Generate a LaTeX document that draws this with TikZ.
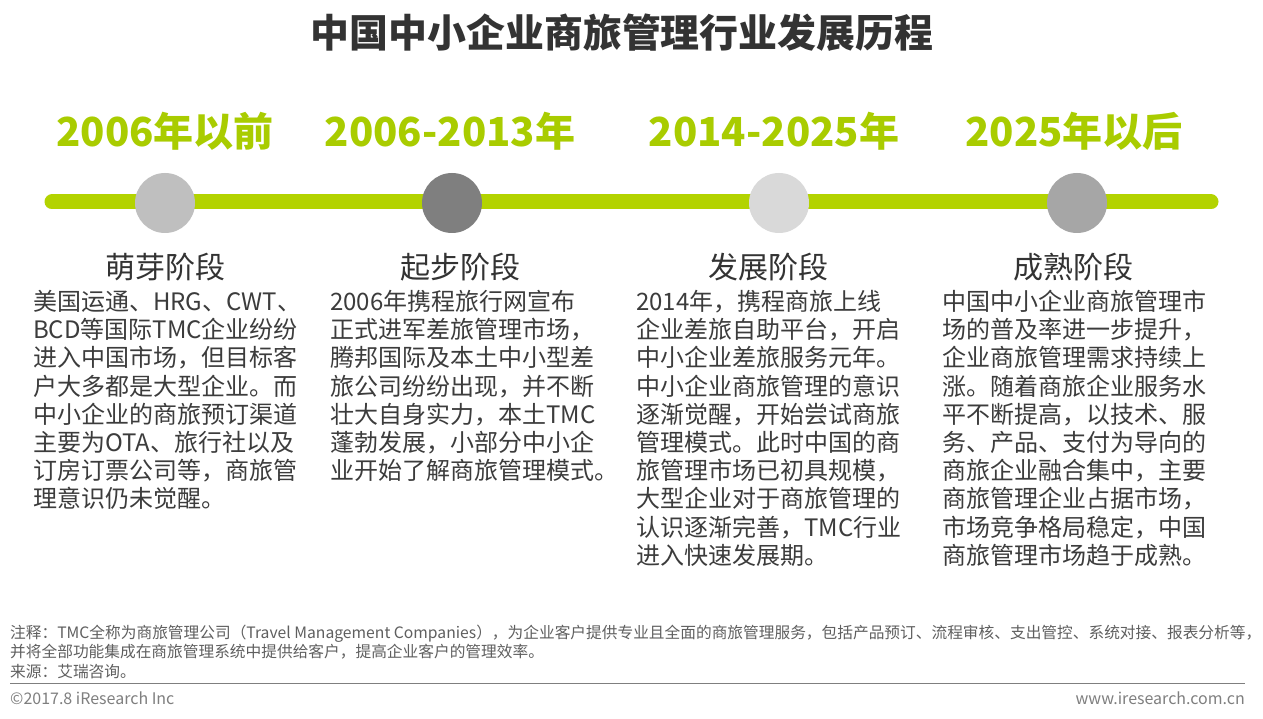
\documentclass[tikz,border=0pt]{standalone}
\usepackage{fontspec}
\setmainfont{Noto Sans CJK SC}
\usetikzlibrary{shapes.geometric}
\definecolor{lime}{HTML}{B3D300}
\definecolor{yeargreen}{HTML}{A9CC00}
\definecolor{titlegray}{HTML}{333333}
\definecolor{bodygray}{HTML}{3C3C3C}
\definecolor{notegray}{HTML}{5F5F5F}
\definecolor{footgray}{HTML}{7F7F7F}
\definecolor{dotA}{HTML}{BFBFBF}
\definecolor{dotB}{HTML}{7F7F7F}
\definecolor{dotC}{HTML}{D9D9D9}
\definecolor{dotD}{HTML}{A6A6A6}
\begin{document}
\begin{tikzpicture}[x=1pt,y=-1pt,
  titlestyle/.style={font=\fontsize{38.9}{44}\selectfont\bfseries, text=titlegray, inner sep=0pt},
  yearstyle/.style={font=\fontsize{40}{46}\selectfont\bfseries, text=yeargreen, inner sep=0pt},
  dotstyle/.style={circle, minimum size=60pt, inner sep=0pt, draw=none},
  stagestyle/.style={font=\fontsize{30}{36}\selectfont, text=titlegray, inner sep=0pt},
  bodystyle/.style={font=\fontsize{24}{28.2}\selectfont, text=bodygray, inner sep=0pt, anchor=north west, align=left},
  notestyle/.style={font=\fontsize{15.7}{19.2}\selectfont, text=notegray, inner sep=0pt, anchor=north west, align=left},
  footstyle/.style={font=\fontsize{16}{19}\selectfont, text=footgray, inner sep=0pt},
  barstyle/.style={line width=15pt, line cap=round, draw=lime}
]
\useasboundingbox (0,0) rectangle (1263,719);
\fill[white] (0,0) rectangle (1263,719);

\node[titlestyle] (title) at (622,33) {中国中小企业商旅管理行业发展历程};

\node[yearstyle] (y1) at (165,131) {2006年以前};
\node[yearstyle] (y2) at (450,131) {2006-2013年};
\node[yearstyle] (y3) at (774,131) {2014-2025年};
\node[yearstyle] (y4) at (1074,131) {2025年以后};

\coordinate (barL) at (52,202);
\coordinate (barR) at (1211,202);
\draw[barstyle] (barL) -- (barR);

\node[dotstyle, fill=dotA] (d1) at (165,203) {};
\node[dotstyle, fill=dotB] (d2) at (452,203) {};
\node[dotstyle, fill=dotC] (d3) at (779,203) {};
\node[dotstyle, fill=dotD] (d4) at (1077,203) {};

\node[stagestyle] (s1) at (165,267) {萌芽阶段};
\node[stagestyle] (s2) at (460,267) {起步阶段};
\node[stagestyle] (s3) at (768,267) {发展阶段};
\node[stagestyle] (s4) at (1073,267) {成熟阶段};

\node[bodystyle] (t1) at (33,290) {美国运通、HRG、CWT、\\BCD等国际TMC企业纷纷\\进入中国市场，但目标客\\户大多都是大型企业。而\\中小企业的商旅预订渠道\\主要为OTA、旅行社以及\\订房订票公司等，商旅管\\理意识仍未觉醒。};
\node[bodystyle] (t2) at (330,290) {2006年携程旅行网宣布\\正式进军差旅管理市场，\\腾邦国际及本土中小型差\\旅公司纷纷出现，并不断\\壮大自身实力，本土TMC\\蓬勃发展，小部分中小企\\业开始了解商旅管理模式。};
\node[bodystyle] (t3) at (636,290) {2014年，携程商旅上线\\企业差旅自助平台，开启\\中小企业差旅服务元年。\\中小企业商旅管理的意识\\逐渐觉醒，开始尝试商旅\\管理模式。此时中国的商\\旅管理市场已初具规模，\\大型企业对于商旅管理的\\认识逐渐完善，TMC行业\\进入快速发展期。};
\node[bodystyle] (t4) at (942,290) {中国中小企业商旅管理市\\场的普及率进一步提升，\\企业商旅管理需求持续上\\涨。随着商旅企业服务水\\平不断提高，以技术、服\\务、产品、支付为导向的\\商旅企业融合集中，主要\\商旅管理企业占据市场，\\市场竞争格局稳定，中国\\商旅管理市场趋于成熟。};

\node[notestyle] (note) at (10,625) {注释：TMC全称为商旅管理公司（Travel Management Companies），为企业客户提供专业且全面的商旅管理服务，包括产品预订、流程审核、支出管控、系统对接、报表分析等，\\并将全部功能集成在商旅管理系统中提供给客户，提高企业客户的管理效率。\\来源：艾瑞咨询。};

\coordinate (ruleL) at (10,683);
\coordinate (ruleR) at (1245,683);
\draw[footgray, line width=1pt] (ruleL) -- (ruleR);

\node[footstyle, anchor=west] (copy) at (10,698) {©2017.8 iResearch Inc};
\node[footstyle, anchor=east] (web) at (1245,698) {www.iresearch.com.cn};
\end{tikzpicture}
\end{document}
